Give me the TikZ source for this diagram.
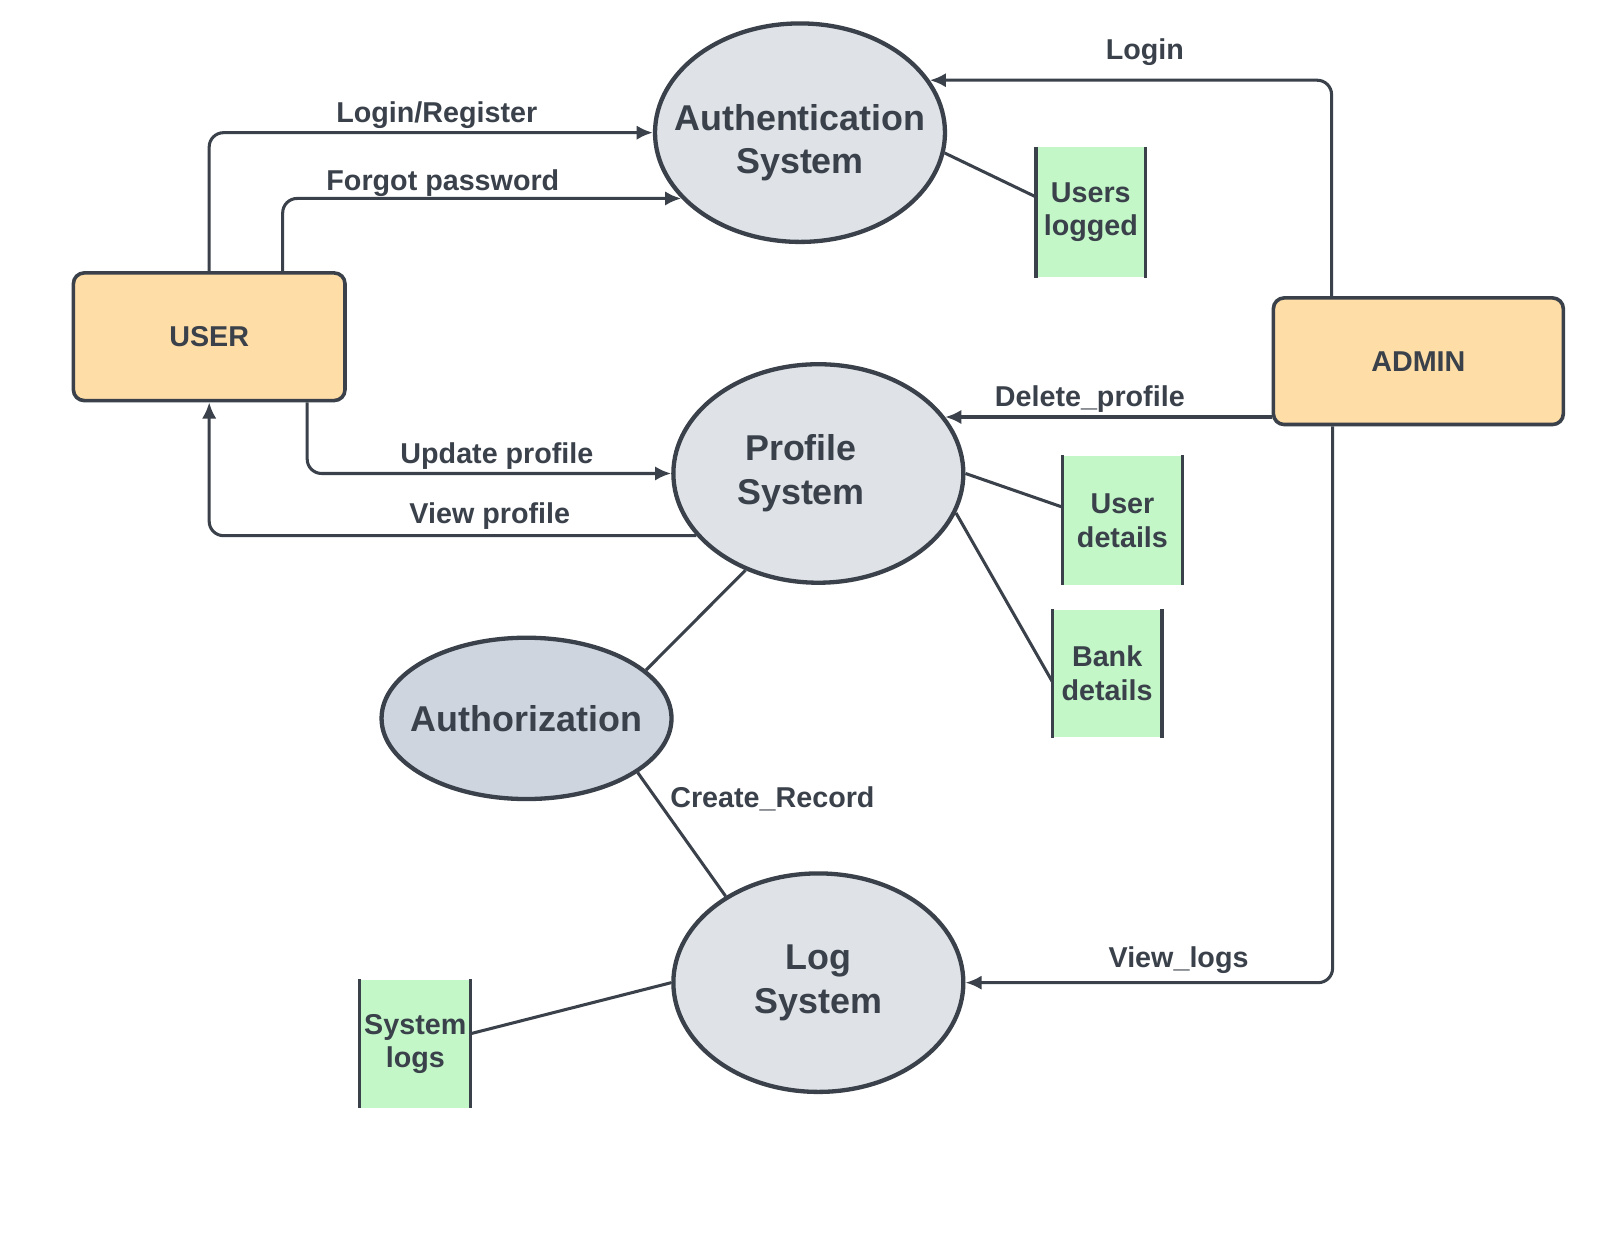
\documentclass[tikz,border=0pt]{standalone}
\usepackage{fontspec}
\setmainfont{Liberation Sans}
\usetikzlibrary{arrows.meta}
\usetikzlibrary{positioning}
\usetikzlibrary{shapes.geometric}
\definecolor{slate}{RGB}{58, 65, 74}
\definecolor{cloud}{RGB}{223, 227, 232}
\definecolor{cloudier}{RGB}{207, 213, 222}
\definecolor{peach}{RGB}{255, 221, 166}
\definecolor{mint}{RGB}{195, 247, 200}

\tikzset{
  process/.style={ellipse, draw=slate, line width=1.2pt, fill=cloud, text=slate, inner ysep=0pt, inner xsep=-0.35cm,
                  minimum width=2.84cm, minimum height=2.14cm, align=center,
                  font=\bfseries\fontsize{10}{12.2}\selectfont},
  entity/.style={rectangle, rounded corners=3pt, draw=slate, line width=1pt, fill=peach, text=slate,
                 font=\bfseries\fontsize{8}{9.6}\selectfont},
  store/.style={rectangle, fill=mint, text=slate, inner sep=0pt, align=center,
                font=\bfseries\fontsize{8}{9.4}\selectfont},
  flow/.style={draw=slate, line width=0.85pt, rounded corners=4pt, -{Latex[length=4.5pt,width=4pt]}},
  link/.style={draw=slate, line width=0.85pt},
  lbl/.style={text=slate, inner sep=0pt, font=\bfseries\fontsize{8}{9.6}\selectfont}
}

\begin{document}
\begin{tikzpicture}[x=0.01cm, y=-0.01cm]
            \useasboundingbox (0,0) rectangle (1568,1211);
            % processes
            \node[process]                           (auth)    at (784, 130)  {\rule{0pt}{0.45cm}Authentication\\System};
            \node[process]                           (profile) at (802, 464)  {Profile\hspace*{0.34cm}\\System\hspace*{0.34cm}};
            \node[process, fill=cloudier, minimum height=1.58cm] (authz) at (516, 704) {Authorization};
            \node[process]                           (logsys)  at (802, 963)  {Log\\System};
            % external entities
            \node[entity, minimum width=2.66cm, minimum height=1.25cm] (user)  at (205, 330)  {USER};
            \node[entity, minimum width=2.84cm, minimum height=1.24cm] (admin) at (1390, 354) {ADMIN};
            % data stores
            \node[store, minimum width=1.06cm, minimum height=1.27cm] (userslogged) at (1069, 208)  {Users\\logged};
            \node[store, minimum width=1.16cm, minimum height=1.26cm] (userdetails) at (1100, 510)  {User\\details};
            \node[store, minimum width=1.06cm, minimum height=1.24cm] (bankdetails) at (1085, 660)  {Bank\\details};
            \node[store, minimum width=1.07cm, minimum height=1.25cm] (systemlogs)  at (407, 1023)  {System\\logs};
            \foreach \s in {userslogged, userdetails, bankdetails, systemlogs}
                \draw[link] (\s.north west) -- (\s.south west) (\s.north east) -- (\s.south east);
            % flows
            \draw[flow] (user.north) |- (auth.west);
            \draw[flow] ([xshift=0.72cm]user.north) |- (auth.209);
            \draw[flow] ([xshift=-0.85cm]admin.north) |- (auth.22);
            \draw[flow] ([xshift=0.96cm]user.south) |- (profile.west);
            \draw[flow] (profile.207) -| (user.south);
            \draw[flow] (profile.24 -| admin.west) -- (profile.24);
            \draw[flow] ([xshift=-0.84cm]admin.south) |- (logsys.east);
            % links
            \draw[link] (auth.-8) -- ([yshift=0.15cm]userslogged.west);
            \draw[link] (profile.east) -- ([yshift=0.13cm]userdetails.west);
            \draw[link] (profile.-16) -- ([yshift=-0.08cm]bankdetails.west);
            \draw[link] (profile.233) -- (authz.22);
            \draw[link] (authz.-26) -- (logsys.137);
            \draw[link] (logsys.west) -- ([yshift=0.1cm]systemlogs.east);
            % labels
            \node[lbl] (lLogin)    at (1122, 51)  {Login};
            \node[lbl] (lRegister) at (428, 113)  {Login/Register};
            \node[lbl] (lForgot)   at (434, 179)  {Forgot password};
            \node[lbl] (lDelete)   at (1068, 391) {Delete\_profile};
            \node[lbl] (lUpdate)   at (487, 447)  {Update profile};
            \node[lbl] (lView)     at (480, 506)  {View profile};
            \node[lbl] (lRecord)   at (757, 783)  {Create\_Record};
            \node[lbl] (lLogs)     at (1155, 941) {View\_logs};
\end{tikzpicture}
\end{document}
